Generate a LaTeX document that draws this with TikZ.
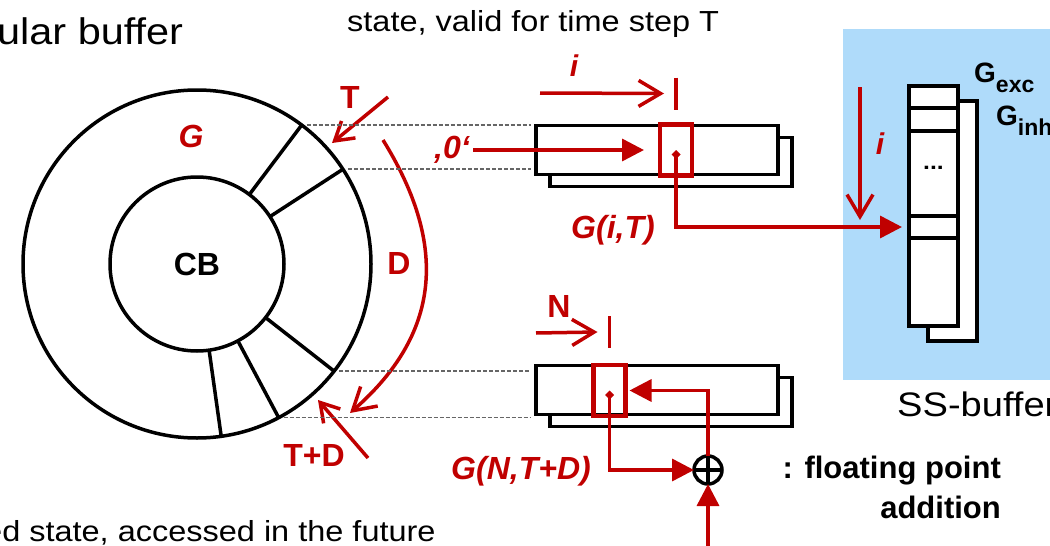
\documentclass[tikz,border=0pt]{standalone}
\usepackage{fontspec}
\setmainfont{Liberation Sans}[FakeStretch=1.12]
\newfontfamily\lblfont{Liberation Sans}
\usetikzlibrary{arrows.meta, positioning}
\definecolor{darkred}{RGB}{192,0,0}
\definecolor{ssblue}{RGB}{175,219,250}
\newcommand{\lowsub}[1]{\raisebox{-10pt}{\fontsize{23}{23}\selectfont #1}}

\begin{document}
\begin{tikzpicture}[
	x=1pt, y=1pt,
	ring/.style={draw, circle, line width=3.5pt, outer sep=0pt},
	buf/.style={draw, rectangle, line width=3.5pt, fill=white, outer sep=0pt, minimum width=242pt, minimum height=49pt},
	sscol/.style={draw, rectangle, line width=3.5pt, fill=white, outer sep=0pt, minimum width=49pt, minimum height=240pt},
	hilite/.style={draw=darkred, rectangle, line width=4.5pt, outer sep=0pt, minimum width=32pt, minimum height=51pt},
	guide/.style={black!60, line width=1.6pt, dash pattern=on 4pt off 2pt, shorten <=5pt, shorten >=5pt},
	redline/.style={darkred, line width=3.5pt},
	barb/.style={redline, -{Straight Barb[length=22pt, width=26pt]}},
	fillarrow/.style={redline, -{Triangle[length=22pt, width=22pt]}},
	redlabel/.style={text=darkred, font=\lblfont\bfseries\fontsize{32}{32}\selectfont},
	redital/.style={text=darkred, font=\lblfont\bfseries\itshape\fontsize{32}{32}\selectfont},
	plaintext/.style={anchor=base west, inner sep=0pt},
	boldtext/.style={inner sep=0pt, font=\lblfont\bfseries\fontsize{31}{31}\selectfont}
	]
	\useasboundingbox (0,0) rectangle (1050,-546);
	\clip (0,0) rectangle (1050,-546);
	
	% ======================
	% Texte am Rand
	% ======================
	\node[plaintext, font=\fontsize{37}{37}\selectfont] (title) at (-3,-45) {ular buffer};
	\node[plaintext, font=\fontsize{29}{29}\selectfont] (toptxt) at (347,-31) {state, valid for time step T};
	\node[plaintext, font=\fontsize{29}{29}\selectfont] (bottxt) at (-16,-541) {ed state, accessed in the future};
	
	% ======================
	% Ringpuffer
	% ======================
	\node[ring, minimum size=348pt] (outer) at (197,-264) {};
	\node[ring, minimum size=174pt, font=\lblfont\bfseries\fontsize{32}{32}\selectfont] (CB) at (197,-264) {CB};
	\foreach \a in {53,33,-38,-62,-82}
		\draw[line width=3.5pt] (CB.\a) -- (outer.\a);
	
	\node[redital] (Glab) at (191,-136) {G};
	\node[redlabel] (Tlab) at (350,-97) {T};
	\node[redlabel] (Dlab) at (399,-263) {D};
	\node[redlabel] (TDlab) at (314,-455) {T+D};
	
	\coordinate (Tfrom) at (388,-97);
	\coordinate (Tto) at (332,-143);
	\draw[barb, -{Straight Barb[length=18pt, width=22pt]}] (Tfrom) -- (Tto);
	
	\coordinate (TDfrom) at (368,-458);
	\coordinate (TDto) at (318,-400);
	\draw[barb, -{Straight Barb[length=18pt, width=22pt]}] (TDfrom) -- (TDto);
	
	\coordinate (Dfrom) at (383,-140);
	\coordinate (Dto) at (350,-413);
	\draw[barb] (Dfrom) .. controls (445,-240) and (445,-330) .. (Dto);
	
	% ======================
	% Zustand fuer T (oben)
	% ======================
	\node[buf] (bufTback) at (671,-162) {};
	\node[buf] (bufT) at (657,-150) {};
	\node[hilite] (selT) at (676,-150) {};
	
	\draw[guide] (outer.53) -- (outer.53 -| bufT.west);
	\draw[guide] (outer.33) -- (outer.33 -| bufT.west);
	
	\coordinate (barT) at ([yshift=31pt]selT.north);
	\draw[redline] ([yshift=16pt]barT) -- ([yshift=-16pt]barT);
	\coordinate (iTfrom) at (540,-93);
	\draw[barb] (iTfrom) -- ([xshift=-12pt]barT);
	\node[redital, font=\lblfont\bfseries\itshape\fontsize{30}{30}\selectfont] (iT) at (574,-66) {i};
	
	\node[redital] (zero) at (452,-150) {‚0‘};
	\draw[fillarrow] (zero.east) -- ([xshift=-16pt]selT.west);
	
	\node[redital] (GiT) at (613,-230) {G(i,T)};
	
	% ======================
	% SS-Puffer
	% ======================
	\fill[ssblue] (843,-29) rectangle (1060,-380);
	\node[sscol] (ssB) at (952.5,-221) {};
	\node[sscol] (ssF) at (933.5,-206) {};
	\foreach \y in {108,131,216,238}
		\draw[line width=3.5pt] (ssF.west |- 0,-\y) -- (ssF.east |- 0,-\y);
	\node[font=\bfseries\fontsize{22}{22}\selectfont] (dots) at (ssF.center |- 0,-168) {...};
	\coordinate (cellI) at (ssF.west |- 0,-227);
	
	\node[anchor=base west, inner sep=0pt, font=\lblfont\bfseries\fontsize{28}{28}\selectfont] (Gexc) at (974,-82) {G\lowsub{exc}};
	\node[anchor=base west, inner sep=0pt, font=\lblfont\bfseries\fontsize{28}{28}\selectfont] (Ginh) at (996,-125) {G\lowsub{inh}};
	
	\coordinate (iSfrom) at (860,-87);
	\coordinate (iSto) at (860,-220);
	\draw[barb] (iSfrom) -- (iSto);
	\node[redital, font=\lblfont\bfseries\itshape\fontsize{30}{30}\selectfont] (iS) at (880,-144) {i};
	
	\draw[redline, {Turned Square[length=9pt, width=9pt]}-{Triangle[length=22pt, width=22pt]}, shorten >=7pt] (selT.center) |- (cellI);
	
	\node[plaintext, font=\fontsize{34}{34}\selectfont] (sslab) at (897,-416) {SS-buffer};
	
	% ======================
	% Zustand fuer T+D (unten)
	% ======================
	\node[buf] (bufNback) at (671,-402) {};
	\node[buf] (bufN) at (657,-390) {};
	\node[hilite] (selN) at (609.5,-390.5) {};
	
	\draw[guide] (outer.-38) -- (outer.-38 -| bufN.west);
	\draw[guide] (outer.-62) -- (outer.-62 -| bufN.west);
	
	\coordinate (barN) at ([yshift=33pt]selN.north);
	\draw[redline] ([yshift=16pt]barN) -- ([yshift=-16pt]barN);
	\coordinate (Nfrom) at (536,-333);
	\draw[barb] (Nfrom) -- ([xshift=-12pt]barN);
	\node[redlabel] (Nlab) at (559,-306) {N};
	
	\node[draw, circle, line width=3.5pt, outer sep=0pt, minimum size=28pt] (add) at (708,-470) {};
	\draw[line width=3.5pt] (add.north) -- (add.south) (add.west) -- (add.east);
	
	\draw[redline, {Turned Square[length=9pt, width=9pt]}-{Triangle[length=22pt, width=22pt]}] (selN.center) |- (add.west);
	\draw[fillarrow, shorten >=4pt] (add.north) |- (selN.east);
	\coordinate (addIn) at (708,-560);
	\draw[fillarrow] (addIn) -- (add.south);
	
	\node[redital] (GNTD) at (521,-471) {G(N,T+D)};
	
	\node[boldtext, anchor=base east] (fpa) at (1001,-478) {: floating point};
	\node[boldtext, anchor=base east] (fpb) at (1001,-518) {addition};
	
\end{tikzpicture}
\end{document}
